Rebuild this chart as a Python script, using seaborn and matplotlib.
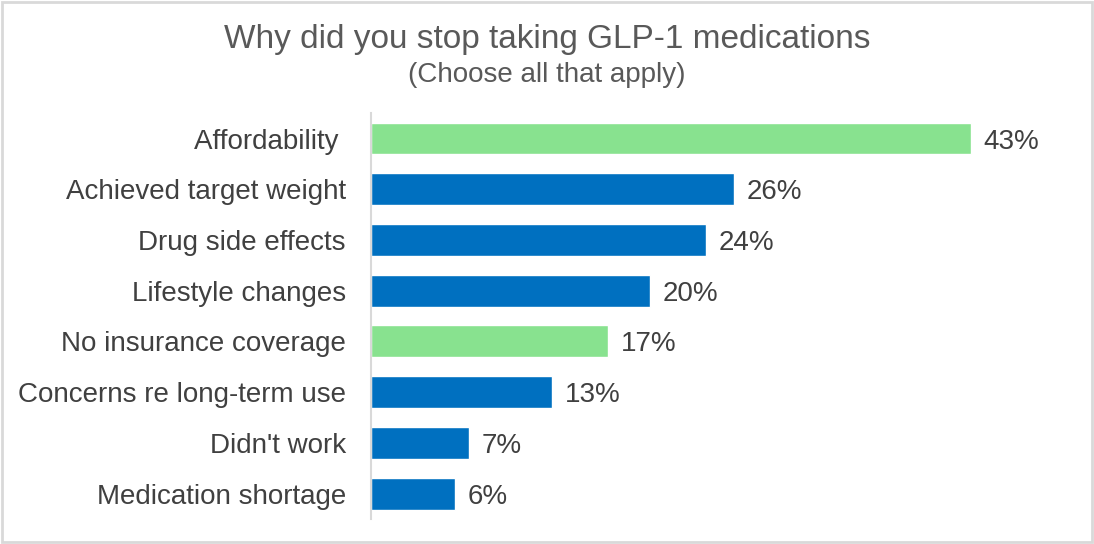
import matplotlib.pyplot as plt
import matplotlib.patches as mpatches
import pandas as pd
import seaborn as sns

# Survey data.
reasons = [
    "Affordability ",
    "Achieved target weight",
    "Drug side effects",
    "Lifestyle changes",
    "No insurance coverage",
    "Concerns re long-term use",
    "Didn't work",
    "Medication shortage",
]
shares = [43, 26, 24, 20, 17, 13, 7, 6]
cost_related = [True, False, False, False, True, False, False, False]

GREEN = "#88E28F"
BLUE = "#0070C0"
TEXT = "#404040"

sns.set_style("white")
plt.rcParams["font.family"] = ["Liberation Sans", "DejaVu Sans"]

df = pd.DataFrame({"reason": reasons, "share": shares})
palette = [GREEN if c else BLUE for c in cost_related]

fig = plt.figure(figsize=(10.94, 5.44), dpi=100)
ax = fig.add_axes([0.339, 0.046, 0.638, 0.746])

sns.barplot(data=df, x="share", y="reason", hue="reason", palette=palette,
            legend=False, width=0.63, saturation=1, ax=ax)

# Percent labels at the end of each bar.
for i, v in enumerate(shares):
    ax.text(v + 0.9, i, f"{v}%", va="center_baseline", ha="left",
            fontsize=20, color=TEXT)

ax.set_xlim(0, 50)
ax.set_ylim(7.5, -0.5)
ax.set_xlabel("")
ax.set_ylabel("")
ax.set_xticks([])
ax.tick_params(axis="y", length=0, pad=18, labelsize=20, labelcolor=TEXT)
for side in ["top", "right", "bottom"]:
    ax.spines[side].set_visible(False)
ax.spines["left"].set_color("#D9D9D9")
ax.spines["left"].set_linewidth(1.5)

fig.text(0.5, 0.928, "Why did you stop taking GLP-1 medications",
         ha="center", va="center", fontsize=24, color="#595959")
fig.text(0.5, 0.862, "(Choose all that apply)",
         ha="center", va="center", fontsize=20, color="#595959")

# Light grey frame round the whole chart.
fig.patches.append(mpatches.Rectangle((0.002, 0.003), 0.996, 0.994,
                                      transform=fig.transFigure, fill=False,
                                      edgecolor="#D9D9D9", linewidth=2))

fig.savefig("out.png", dpi=100)
